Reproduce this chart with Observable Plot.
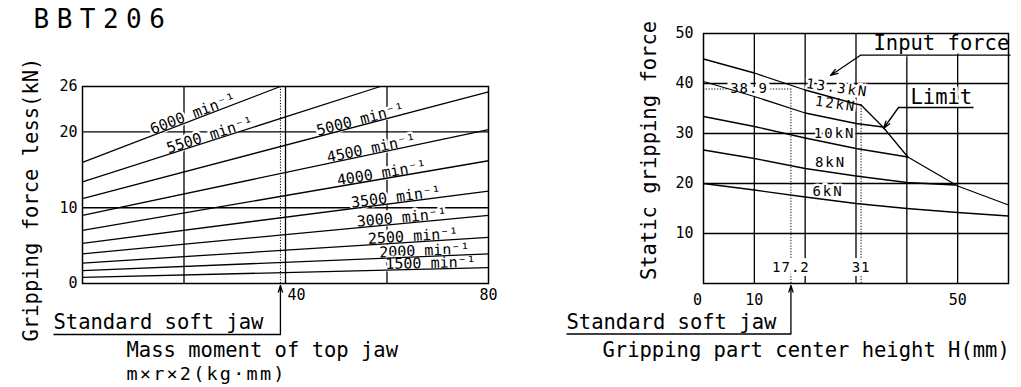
<!DOCTYPE html>
<html>
<head>
<meta charset="utf-8">
<script src="https://cdn.jsdelivr.net/npm/d3@7"></script>
<script src="https://cdn.jsdelivr.net/npm/@observablehq/plot@0.6"></script>
<style>
  html, body { margin: 0; padding: 0; background: #fff; }
  #wrap { position: relative; width: 1021px; height: 387px; overflow: hidden; background: #fff; }
  #left, #right { position: absolute; top: 0; }
  #left { left: 0; }
  #right { left: 510px; }
  svg text { font-family: "DejaVu Sans Mono", monospace; }
</style>
</head>
<body>
<div id="wrap"><div id="left"></div><div id="right"></div></div>
<script>
// ---------------- Left chart: gripping force loss vs mass moment ----------------
const speedLabels    = ["6000", "5500", "5000", "4500", "4000", "3500", "3000", "2500", "2000", "1500"];
const lossAtZeroMass = [16.0, 13.4, 11.2, 9.0, 7.0, 5.3, 3.9, 2.7, 1.7, 0.8];
const lineEndMass    = [39.0, 58.7, 80, 80, 80, 80, 80, 80, 80, 80];
const lossAtEndMass  = [26.0, 26.0, 25.3, 20.3, 16.2, 12.2, 9.0, 6.1, 3.9, 2.1];
const labelMass      = [22.1, 25.4, 55.0, 57.1, 59.1, 61.9, 63.0, 65.2, 67.4, 68.6];
const lossYTicks = [0, 10, 20, 26];
const lossGridY  = [10, 20];
const lossGridX  = [20, 40, 60];
const softJawMass = 39;

// ---------------- Right chart: static gripping force vs height H ----------------
const H_13_3 = [0, 10, 20, 30, 31];
const F_13_3 = [44.9, 42.1, 38.7, 35.9, 35.7];
const H_12   = [0, 10, 20, 30, 35.3];
const F_12   = [40.4, 37.4, 34.1, 32.0, 31.3];
const H_10   = [0, 10, 20, 30, 40.2];
const F_10   = [33.4, 31.4, 29.1, 27.0, 25.3];
const H_8    = [0, 10, 20, 30, 40, 49.5];
const F_8    = [26.7, 25.0, 23.0, 21.5, 20.2, 19.7];
const H_6    = [0, 10, 20, 30, 40, 50, 60];
const F_6    = [20.0, 18.7, 17.3, 16.0, 15.0, 14.2, 13.5];
const H_lim  = [31, 35.3, 40.2, 50, 60];
const F_lim  = [35.7, 31.3, 25.3, 19.5, 15.7];
const forceNames  = ["13.3kN", "12kN", "10kN", "8kN", "6kN"];
const forceLabelH = [26.3, 26.0, 25.8, 25.0, 24.5];
const forceLabelF = [39.1, 35.9, 29.9, 24.1, 18.4];
const forceLabelRot = [8, 8, 0, 0, 0];
const gripYTicks = [10, 20, 30, 40, 50];
const gripXTicks = [10, 50];
const gripGridY = [10, 20, 30, 40];
const gripGridX = [10, 20, 30, 40, 50];
const softJawH = 17.2, softJawForce = 38.9, limitStartH = 31;

// ---------------- layout (pixels) ----------------
const FONT = '"DejaVu Sans Mono", monospace';
const L = {w: 510, x0: 82, x1: 488, y0: 283, y1: 86, xd: 80, yd: 26};
const R = {off: 510, w: 511, x0: 703, x1: 1008, y0: 283, y1: 33, xd: 60, yd: 50};
const lx = px => (px - L.x0) / (L.x1 - L.x0) * L.xd;
const ly = py => (L.y0 - py) / (L.y0 - L.y1) * L.yd;
const rx = px => (px - R.x0) / (R.x1 - R.x0) * R.xd;
const ry = py => (R.y0 - py) / (R.y0 - R.y1) * R.yd;

const lossLines = speedLabels.map((s, i) => ({x1: 0, y1: lossAtZeroMass[i], x2: lineEndMass[i], y2: lossAtEndMass[i]}));
const pxPerX = (L.x1 - L.x0) / L.xd, pxPerY = (L.y0 - L.y1) / L.yd;
const lossLabels = speedLabels.map((s, i) => {
  const slope = (lossAtEndMass[i] - lossAtZeroMass[i]) / lineEndMass[i];
  return {text: `${s} min⁻¹`, x: labelMass[i], y: lossAtZeroMass[i] + slope * labelMass[i],
          rotate: -Math.atan(slope * pxPerY / pxPerX) * 180 / Math.PI};
});

const txt = {fill: "black", fontSize: 20.5, textAnchor: "start", lineAnchor: "bottom"};

const left = Plot.plot({
  width: L.w, height: 387,
  marginLeft: L.x0, marginRight: L.w - L.x1, marginTop: L.y1, marginBottom: 387 - L.y0,
  style: {background: "transparent", fontFamily: FONT, fontSize: "15px", overflow: "visible", color: "black"},
  x: {domain: [0, 80]},
  y: {domain: [0, 26]},
  marks: [
    Plot.ruleY(lossGridY, {stroke: "black", strokeWidth: 1.3}),
    Plot.ruleX(lossGridX, {stroke: "black", strokeWidth: 1.3}),
    Plot.ruleX([softJawMass], {stroke: "black", strokeWidth: 1, strokeDasharray: "1.2,1.6"}),
    Plot.text(lossLabels, {x: "x", y: "y", text: "text", rotate: "rotate", lineAnchor: "bottom", dy: -1,
      fontSize: 15, fill: "black", stroke: "white", strokeWidth: 5}),
    Plot.link(lossLines, {x1: "x1", y1: "y1", x2: "x2", y2: "y2", stroke: "black", strokeWidth: 1.3}),
    Plot.frame({stroke: "black", strokeWidth: 1.5}),
    Plot.axisY({ticks: lossYTicks, tickSize: 0, tickPadding: 5, label: null, fontSize: 15}),
    Plot.axisX({ticks: [80], tickSize: 0, tickPadding: 6, label: null, fontSize: 15}),
    Plot.axisX({ticks: [40], tickSize: 0, tickPadding: 6, dx: 11, label: null, fontSize: 15}),
    // annotations
    Plot.text([{t: "BBT206", x: lx(33), y: ly(27)}], {x: "x", y: "y", text: "t", ...txt, fontSize: 26}),
    Plot.text([{t: "Gripping force less(kN)", x: lx(37), y: ly(199)}], {x: "x", y: "y", text: "t", ...txt, textAnchor: "middle", rotate: -90}),
    Plot.text([{t: "Standard soft jaw", x: lx(53), y: ly(328)}], {x: "x", y: "y", text: "t", ...txt}),
    Plot.text([{t: "Mass moment of top jaw", x: lx(126), y: ly(356)}], {x: "x", y: "y", text: "t", ...txt}),
    Plot.text([{t: "m×r×2(kg·mm)", x: lx(126), y: ly(379)}], {x: "x", y: "y", text: "t", ...txt, fontSize: 18.5}),
    Plot.link([{x1: lx(53), x2: softJawMass, y: ly(334)}], {x1: "x1", x2: "x2", y1: "y", y2: "y", stroke: "black", strokeWidth: 1.3}),
    Plot.arrow([{x: softJawMass, y1: ly(334), y2: ly(285)}], {x1: "x", x2: "x", y1: "y1", y2: "y2", stroke: "black", strokeWidth: 1.3, headLength: 8, headAngle: 35})
  ]
});

const forceRows = [
  ...H_13_3.map((h, i) => ({s: "13.3kN", h, f: F_13_3[i]})),
  ...H_12.map((h, i) => ({s: "12kN", h, f: F_12[i]})),
  ...H_10.map((h, i) => ({s: "10kN", h, f: F_10[i]})),
  ...H_8.map((h, i) => ({s: "8kN", h, f: F_8[i]})),
  ...H_6.map((h, i) => ({s: "6kN", h, f: F_6[i]})),
  ...H_lim.map((h, i) => ({s: "Limit", h, f: F_lim[i]}))
];
const forceLabels = forceNames.map((n, i) => ({t: n, x: forceLabelH[i], y: forceLabelF[i], r: forceLabelRot[i]}));
const dotted = {stroke: "black", strokeWidth: 1, strokeDasharray: "1.2,1.6"};

const right = Plot.plot({
  width: R.w, height: 387,
  marginLeft: R.x0 - R.off, marginRight: R.off + R.w - R.x1, marginTop: R.y1, marginBottom: 387 - R.y0,
  style: {background: "transparent", fontFamily: FONT, fontSize: "15px", overflow: "visible", color: "black"},
  x: {domain: [0, 60]},
  y: {domain: [0, 50]},
  marks: [
    Plot.ruleY(gripGridY, {stroke: "black", strokeWidth: 1.3}),
    Plot.ruleX(gripGridX, {stroke: "black", strokeWidth: 1.3}),
    Plot.ruleY([softJawForce], {x1: 0, x2: softJawH, ...dotted}),
    Plot.ruleX([softJawH], {y1: 0, y2: softJawForce, ...dotted}),
    Plot.ruleX([limitStartH], {y1: 0, y2: F_lim[0], ...dotted}),
    Plot.text(forceLabels, {x: "x", y: "y", text: "t", rotate: "r", fontSize: 14, fill: "black", stroke: "white", strokeWidth: 5}),
    Plot.text([{t: String(softJawForce), x: rx(748.5), y: softJawForce}, {t: String(softJawH), x: softJawH, y: ry(267)}, {t: String(limitStartH), x: limitStartH, y: ry(267)}],
      {x: "x", y: "y", text: "t", fontSize: 14, fill: "black", stroke: "white", strokeWidth: 8}),
    Plot.text([{t: "Input force", x: rx(873), y: ry(49.7)}], {x: "x", y: "y", text: "t", ...txt, stroke: "white", strokeWidth: 10}),
    Plot.text([{t: "Limit", x: rx(910), y: ry(103)}], {x: "x", y: "y", text: "t", ...txt, stroke: "white", strokeWidth: 6}),
    Plot.line(forceRows, {x: "h", y: "f", z: "s", stroke: "black", strokeWidth: 1.3}),
    Plot.link([{x1: rx(860), x2: rx(1010), y: ry(54.7)}, {x1: rx(898), x2: rx(973), y: ry(107)}], {x1: "x1", x2: "x2", y1: "y", y2: "y", stroke: "black", strokeWidth: 1.3}),
    Plot.arrow([{x1: rx(860), y1: ry(54.7), x2: rx(830), y2: ry(75)}, {x1: rx(898), y1: ry(107), x2: rx(883), y2: ry(128)}],
      {x1: "x1", y1: "y1", x2: "x2", y2: "y2", stroke: "black", strokeWidth: 1.3, headLength: 9, headAngle: 35}),
    Plot.frame({stroke: "black", strokeWidth: 1.5}),
    Plot.axisY({ticks: gripYTicks, tickSize: 0, tickPadding: 10, label: null, fontSize: 15}),
    Plot.axisX({ticks: gripXTicks, tickSize: 0, tickPadding: 11, label: null, fontSize: 15}),
    Plot.axisX({ticks: [0], tickSize: 0, tickPadding: 11, dx: -6, label: null, fontSize: 15}),
    // annotations
    Plot.text([{t: "Static gripping force", x: rx(655), y: ry(150)}], {x: "x", y: "y", text: "t", ...txt, textAnchor: "middle", rotate: -90}),
    Plot.text([{t: "Standard soft jaw", x: rx(566), y: ry(328)}], {x: "x", y: "y", text: "t", ...txt}),
    Plot.text([{t: "Gripping part center height H(mm)", x: rx(602), y: ry(356.5)}], {x: "x", y: "y", text: "t", ...txt}),
    Plot.link([{x1: rx(566), x2: softJawH, y: ry(333.5)}], {x1: "x1", x2: "x2", y1: "y", y2: "y", stroke: "black", strokeWidth: 1.3}),
    Plot.arrow([{x: softJawH, y1: ry(333.5), y2: ry(285)}], {x1: "x", x2: "x", y1: "y1", y2: "y2", stroke: "black", strokeWidth: 1.3, headLength: 8, headAngle: 35})
  ]
});

document.getElementById("left").appendChild(left);
document.getElementById("right").appendChild(right);

// letter spacing tweaks for the drawing's wide CAD lettering
const spacing = {"BBT206": "7.5px", "m×r×2(kg·mm)": "2.2px", "17.2": "1px", "31": "1px", "38.9": "1px"};
forceNames.forEach(n => spacing[n] = "2px");
d3.selectAll("#wrap svg text").each(function () {
  const s = spacing[this.textContent];
  if (s) this.style.letterSpacing = s;
});
</script>
</body>
</html>
